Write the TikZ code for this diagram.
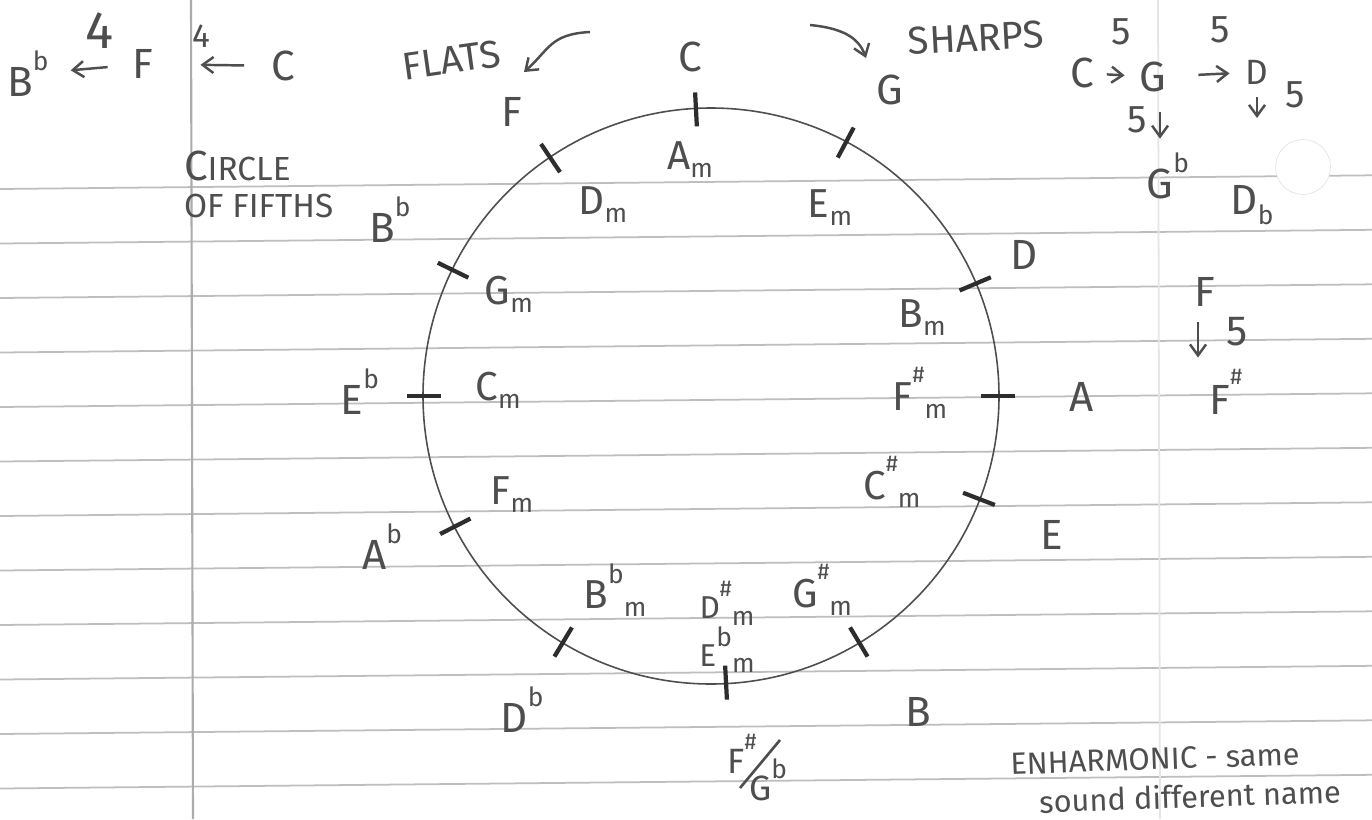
\documentclass[tikz,border=0pt]{standalone}
\usepackage{fontspec}
\setmainfont{Fira Sans}
\usepackage{tikz}
\usetikzlibrary{positioning,arrows.meta,calc}
\definecolor{pencil}{RGB}{78,78,78}
\definecolor{lead}{RGB}{45,45,45}
\definecolor{ruleGray}{RGB}{190,190,190}
\definecolor{marginGray}{RGB}{172,172,172}
% flats, sharps and the minor "m" as the notebook writes them
\newcommand{\fl}{\raisebox{0.62em}{\fontsize{15}{15}\selectfont b}}
\newcommand{\lowfl}{\raisebox{-0.25em}{\fontsize{15}{15}\selectfont b}}
\newcommand{\shp}{\raisebox{0.7em}{\fontsize{13}{13}\selectfont\#}}
\newcommand{\mi}{\raisebox{-0.2em}{\fontsize{15}{15}\selectfont m}}
\tikzset{
  key/.style={font=\fontsize{24}{26}\selectfont,text=pencil,inner sep=1pt},
  minor/.style={font=\fontsize{23}{26}\selectfont,text=pencil,inner sep=1pt},
  num/.style={font=\fontsize{22}{24}\selectfont,text=pencil,inner sep=1pt},
  note/.style={font=\fontsize{17.5}{21}\selectfont,text=pencil,inner sep=1pt},
  arrow/.style={-{Straight Barb[length=2.2mm,width=3.2mm]},draw=pencil,line width=1.4pt},
  ruled/.style={draw=ruleGray,line width=1pt},
  tick/.style={draw=lead,line width=2.4pt},
  ring/.style={draw=pencil,line width=0.9pt}
}

\begin{document}
\begin{tikzpicture}[x=0.02cm,y=-0.02cm]
  \useasboundingbox (0,0) rectangle (1372,819);
  \fill[white] (0,0) rectangle (1372,819);

  % notebook paper
  \foreach \k in {0,...,11}
    \draw[ruled] (0,189+54.5*\k) -- (1372,175.3+54.5*\k);
  \draw[draw=marginGray,line width=1.2pt] (191,0) -- (193,819);
  \draw[draw=ruleGray!40,line width=1pt] (1158,0) -- (1160,819);
  \node[circle,fill=white,draw=gray!20,minimum size=1.1cm,inner sep=0pt] (hole) at (1303,167) {};

  % the circle
  \coordinate (o) at (711,396);
  \draw[ring] (o) circle[radius=288];
  \foreach \a in {93,62,23,0,-21,-59,-87,-121,-153,180,154,124}
    \draw[tick] ($(o)+({-\a}:270)$) -- ($(o)+({-\a}:304)$);

  % major keys
  \node[key] (kC) at (690,57) {C};
  \node[key] (kG) at (890,90) {G};
  \node[key] (kD) at (1024,255) {D};
  \node[key] (kA) at (1082,397) {A};
  \node[key] (kE) at (1052,535) {E};
  \node[key] (kB) at (918,712) {B};
  \node[key,font=\fontsize{20}{22}\selectfont] (kFs) at (742,754) {F\shp};
  \node[key,font=\fontsize{20}{22}\selectfont] (kGb) at (768,780) {G\fl};
  \coordinate (sl1) at (740,788);
  \coordinate (sl2) at (780,740);
  \draw[pencil,line width=1.5pt] (sl1) -- (sl2);
  \node[key] (kDb) at (522,710) {D\fl};
  \node[key] (kAb) at (382,547) {A\fl};
  \node[key] (kEb) at (360,392) {E\fl};
  \node[key] (kBb) at (390,220) {B\fl};
  \node[key] (kF) at (512,112) {F};

  % relative minors
  \node[minor] (mA) at (690,160) {A\mi};
  \node[minor] (mE) at (830,208) {E\mi};
  \node[minor] (mB) at (922,318) {B\mi};
  \node[minor] (mFs) at (920,393) {F\shp\mi};
  \node[minor] (mCs) at (892,482) {C\shp\mi};
  \node[minor] (mGs) at (822,590) {G\shp\mi};
  \node[minor,align=center,font=\fontsize{18}{17}\selectfont] (mDsEb) at (727,627)
    {D\shp\mi\\E\fl\mi};
  \node[minor] (mBb) at (615,590) {B\fl\mi};
  \node[minor] (mF) at (512,495) {F\mi};
  \node[minor] (mC) at (498,390) {C\mi};
  \node[minor] (mG) at (509,294) {G\mi};
  \node[minor] (mD) at (603,205) {D\mi};

  % titles and notes
  \node[note,anchor=west,align=left,font=\fontsize{19}{19}\selectfont] (title) at (182,184)
    {{\fontsize{24}{24}\selectfont C}IRCLE\\[2pt]OF FIFTHS};
  \node[note,rotate=8,font=\fontsize{22}{24}\selectfont] (flats) at (452,60) {FLATS};
  \node[note,rotate=3,font=\fontsize{22}{24}\selectfont] (sharps) at (976,38) {SHARPS};
  \coordinate (flTail) at (590,32);
  \coordinate (flHead) at (524,72);
  \draw[arrow] (flTail) .. controls +(-40,2) and +(25,-22) .. (flHead);
  \coordinate (shTail) at (810,25);
  \coordinate (shHead) at (866,58);
  \draw[arrow] (shTail) .. controls +(30,3) and +(-8,-22) .. (shHead);
  \node[note,rotate=2] (enh) at (1155,759) {ENHARMONIC - same};
  \node[note,rotate=2] (snd) at (1190,796) {sound different name};

  % fourths going down, top left
  \node[key] (lBb) at (28,74) {B\fl};
  \node[key] (lF) at (143,64) {F};
  \node[key] (lC) at (283,66) {C};
  \draw[arrow,shorten <=0.46cm,shorten >=0.4cm] (lF) -- (lBb);
  \draw[arrow,shorten <=0.5cm,shorten >=0.9cm] (lC) -- (lF);
  \node[num,font=\fontsize{30}{32}\selectfont] (four1) at (100,31) {4};
  \node[num,font=\fontsize{19}{20}\selectfont] (four2) at (201,36) {4};

  % fifths going up, top right
  \node[key] (rC) at (1082,73) {C};
  \node[key] (rG) at (1153,77) {G};
  \node[key,font=\fontsize{20}{22}\selectfont] (rD) at (1257,72) {D};
  \draw[arrow,shorten <=0.22cm,shorten >=0.26cm] (rC) -- (rG);
  \draw[arrow,shorten <=0.6cm,shorten >=0.28cm] (rG) -- (rD);
  \node[num] (five1) at (1121,32) {5};
  \node[num] (five2) at (1220,30) {5};
  \node[key] (rGb) at (1168,176) {G\fl};
  \node[key] (rDb) at (1252,205) {D\lowfl};
  \draw[arrow,shorten <=0.36cm,shorten >=0.24cm] ([xshift=0.14cm]rG.south) -- ([xshift=0.14cm]rG.south |- rGb.north);
  \draw[arrow,shorten <=0.22cm,shorten >=1.3cm] (rD.south) -- (rD.south |- rDb.north);
  \node[num] (five3) at (1137,120) {5};
  \node[num] (five4) at (1295,95) {5};
  \node[key] (rF) at (1205,292) {F};
  \node[key] (rFs) at (1226,392) {F\shp};
  \draw[arrow,shorten <=0.26cm,shorten >=0.2cm] ([xshift=-0.14cm]rF.south) -- ([xshift=-0.14cm]rF.south |- rFs.north);
  \node[num,font=\fontsize{24}{26}\selectfont] (five5) at (1237,332) {5};
\end{tikzpicture}
\end{document}
